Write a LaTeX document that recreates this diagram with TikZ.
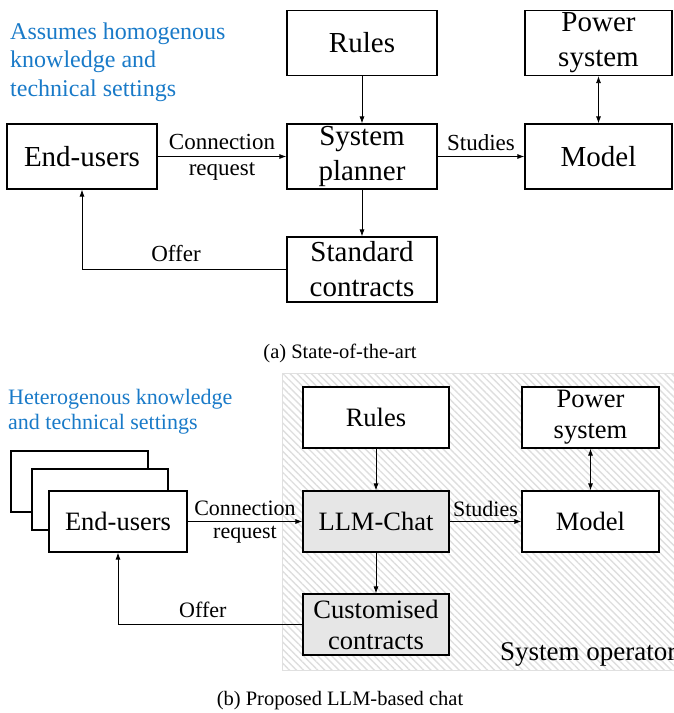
\documentclass[tikz,border=0pt]{standalone}
\usepackage{fontspec}
\setmainfont{Liberation Serif}
\usetikzlibrary{arrows.meta,patterns.meta}
\definecolor{noteblue}{RGB}{25,122,200}
\definecolor{chatgray}{RGB}{230,230,230}

\begin{document}
\begin{tikzpicture}[x=1pt,y=-1pt,>={Latex[length=7pt,width=5pt]}]
      \useasboundingbox (0,0) rectangle (674,713);
      \tikzstyle{blockA}=[draw,line width=1.2pt,fill=white,minimum width=150pt,
			  minimum height=65pt,inner sep=0pt,align=center,
			  font=\fontsize{29}{35}\selectfont]
      \tikzstyle{blockB}=[draw,line width=1.2pt,fill=white,minimum width=146pt,
			  minimum height=61pt,inner sep=0pt,align=center,
			  font=\fontsize{26.5}{31}\selectfont]
      \tikzstyle{flow}=[->,line width=0.8pt]
      \tikzstyle{tagA}=[font=\fontsize{23}{26}\selectfont,inner sep=0pt]
      \tikzstyle{tagB}=[font=\fontsize{22}{25}\selectfont,inner sep=0pt]
      \tikzstyle{note}=[text=noteblue,align=left,inner sep=0pt]
      \tikzstyle{caption}=[font=\fontsize{20.5}{24}\selectfont]

      % (a) state of the art
      \node (noteA) [note,anchor=west,font=\fontsize{24}{28.5}\selectfont] at (10,62)
	  {Assumes homogenous\\knowledge and\\technical settings};
      \node (rulesA) [blockA] at (362,43) {Rules};
      \node (powerA) [blockA,minimum width=147pt] at (598.5,43) {Power\\system};
      \node (usersA) [blockA] at (82,156.5) {End-users};
      \node (plannerA) [blockA] at (362,156.5) {System\\planner};
      \node (modelA) [blockA,minimum width=147pt] at (598.5,156.5) {Model};
      \node (contractsA) [blockA] at (362,269.5) {Standard\\contracts};
      \draw[flow] (usersA) -- (plannerA)
	  node[tagA,midway,yshift=15pt] {Connection}
	  node[tagA,midway,yshift=-15pt] {request};
      \draw[flow] (plannerA) -- (modelA) node[tagA,midway,yshift=14pt] {Studies};
      \draw[flow] (rulesA) -- (plannerA);
      \draw[flow] (plannerA) -- (contractsA);
      \draw[<->,line width=0.8pt] (powerA) -- (modelA);
      \draw[flow] (contractsA.west) -| node[tagA,pos=0.27,yshift=16pt] {Offer} (usersA.south);
      \node (capA) [caption] at (340,353) {(a) State-of-the-art};

      % (b) proposed chat
      \fill[pattern={Lines[angle=-45,distance=5pt,line width=1.4pt]},pattern color=black!13]
	  (282,373) rectangle (680,670);
      \draw[black!12,line width=0.6pt] (680,373) -- (282,373) -- (282,670) -- (680,670);
      \node (operator) [anchor=base west,font=\fontsize{27}{30}\selectfont,inner sep=0pt]
	  at (500,660) {System operator};
      \node (noteB) [note,anchor=west,font=\fontsize{22}{25}\selectfont] at (8,412)
	  {Heterogenous knowledge\\and technical settings};
      \node (rulesB) [blockB] at (376,417.5) {Rules};
      \node (powerB) [blockB,minimum width=137pt] at (590.5,417.5) {Power\\system};
      \node (usersB3) [blockB,minimum width=137pt] at (79.5,481.5) {};
      \node (usersB2) [blockB,minimum width=136pt] at (100,499.5) {};
      \node (usersB) [blockB,minimum width=138pt] at (118,521.5) {End-users};
      \node (chatB) [blockB,fill=chatgray] at (376,521.5) {LLM-Chat};
      \node (modelB) [blockB,minimum width=137pt] at (590.5,521.5) {Model};
      \node (contractsB) [blockB,fill=chatgray] at (376,624.5) {Customised\\contracts};
      \draw[flow] (usersB) -- (chatB)
	  node[tagB,midway,yshift=13pt] {Connection}
	  node[tagB,midway,yshift=-13pt] {request};
      \draw[flow] (chatB) -- (modelB) node[tagB,midway,yshift=13pt] {Studies};
      \draw[flow] (rulesB) -- (chatB);
      \draw[flow] (chatB) -- (contractsB);
      \draw[<->,line width=0.8pt] (powerB) -- (modelB);
      \draw[flow] (contractsB.west) -| node[tagB,pos=0.27,yshift=15pt] {Offer} (usersB.south);
      \node (capB) [caption] at (340,701) {(b) Proposed LLM-based chat};
\end{tikzpicture}
\end{document}
